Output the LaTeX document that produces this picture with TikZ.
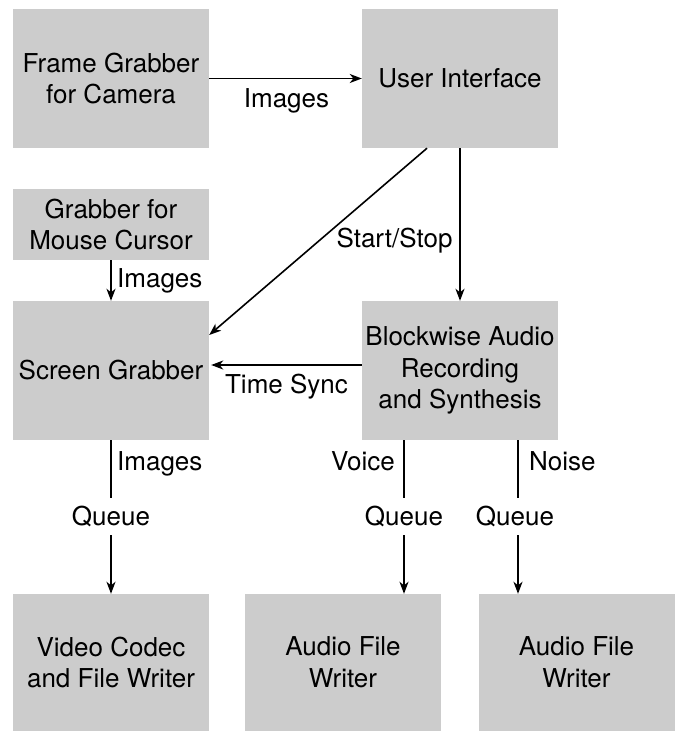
\documentclass[tikz,border=0pt]{standalone}
\usepackage{fontspec}
\setmainfont{TeX Gyre Heros}
\usetikzlibrary{arrows.meta}
\definecolor{boxgray}{RGB}{204,204,204}
\begin{document}
\begin{tikzpicture}[x=1pt,y=-1pt,
  font=\fontsize{26}{31.6}\selectfont,
  box/.style={fill=boxgray, minimum width=196pt, inner sep=0pt, align=center},
  lbl/.style={inner sep=0pt, anchor=base},
  queuelbl/.style={inner sep=0pt, minimum height=37pt, text height=18pt, text depth=0pt},
  ln/.style={line width=1.6pt},
  arr/.style={line width=1.6pt, -{Stealth[length=12pt,width=9pt,inset=3.5pt]}}]
\useasboundingbox (0,0) rectangle (677,731);
% boxes
\node[box, minimum height=139pt] (fg) at (111,78.5) {Frame Grabber\\for Camera};
\node[box, minimum height=139pt] (ui) at (460,78.5) {User Interface};
\node[box, minimum height=71pt] (mc) at (111,224.5) {Grabber for\\Mouse Cursor};
\node[box, minimum height=139pt] (sg) at (111,370.5) {Screen Grabber};
\node[box, minimum height=139pt] (bl) at (460,370.5) {Blockwise Audio\\Recording\\and Synthesis};
\node[box, minimum height=137pt] (vc) at (111,662.5) {Video Codec\\and File Writer};
\node[box, minimum height=137pt] (a1) at (343,662.5) {Audio File\\Writer};
\node[box, minimum height=137pt] (a2) at (576.5,662.5) {Audio File\\Writer};
% helper coordinates
\coordinate (dx) at (427,0);
\coordinate (dy) at (0,335);
\coordinate (ty) at (0,365);
\coordinate (vx) at (404,0);
\coordinate (nx) at (518,0);
% queue labels
\node[queuelbl] (q1) at (111,516.5) {Queue};
\node[queuelbl] (q2) at (404,516.5) {Queue};
\node[queuelbl] (q3) at (515,516.5) {Queue};
% connectors
\draw[arr] (fg.east) -- (ui.west);
\draw[arr] (ui.south -| dx) -- (sg.east |- dy);
\draw[arr] (ui.south) -- (bl.north);
\draw[arr] (mc.south) -- (sg.north);
\draw[arr, shorten >=2pt] (bl.west |- ty) -- (sg.east |- ty);
\draw[ln] (sg.south) -- (q1.north);
\draw[arr] (q1.south) -- (vc.north);
\draw[ln] (bl.south -| vx) -- (q2.north -| vx);
\draw[arr] (q2.south -| vx) -- (a1.north -| vx);
\draw[ln] (bl.south -| nx) -- (q3.north -| nx);
\draw[arr] (q3.south -| nx) -- (a2.north -| nx);
% labels
\node[lbl] (limg1) at (286.5,107.5) {Images};
\node[lbl] (lss) at (394.5,247) {Start/Stop};
\node[lbl, anchor=base west] (limg2) at (117,287.5) {Images};
\node[lbl] (lts) at (286.5,393.3) {Time Sync};
\node[lbl, anchor=base west] (limg3) at (117,470.7) {Images};
\node[lbl, anchor=base east] (lvo) at (395,470.7) {Voice};
\node[lbl, anchor=base west] (lno) at (529,470.7) {Noise};
\end{tikzpicture}
\end{document}
